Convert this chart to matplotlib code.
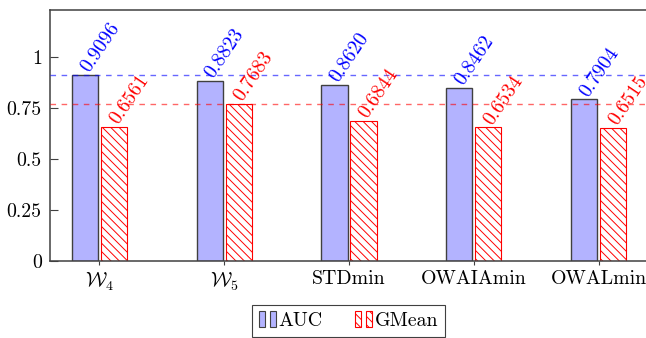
import matplotlib
matplotlib.use('Agg')
import matplotlib.pyplot as plt
from matplotlib.legend_handler import HandlerBase
from matplotlib.patches import Rectangle, Patch
import numpy as np

methods = [r'$\mathcal{W}_4$', r'$\mathcal{W}_5$', 'STDmin', 'OWAIAmin', 'OWALmin']
auc = [0.9096, 0.8823, 0.8620, 0.8462, 0.7904]
gmean = [0.6561, 0.7683, 0.6844, 0.6534, 0.6515]
yticks = [0, 0.25, 0.5, 0.75, 1]
ytick_labels = ['0', '0.25', '0.5', '0.75', '1']

plt.rcParams['font.family'] = 'serif'
plt.rcParams['font.serif'] = ['cmr10']
plt.rcParams['mathtext.fontset'] = 'cm'
plt.rcParams['axes.formatter.use_mathtext'] = True
plt.rcParams['hatch.linewidth'] = 0.7
plt.rcParams['hatch.color'] = 'red'

AUC_FILL = '#b3b3ff'
AXIS_COL = '#404040'
FS = 14.3


class TwoBarHandler(HandlerBase):
    # pgfplots style ybar legend: two little bars
    def create_artists(self, legend, orig_handle, xdescent, ydescent,
                       width, height, fontsize, trans):
        bw = width * 0.36
        h = height * 1.2
        y0 = -ydescent - height * 0.1
        out = []
        for x0 in (0, width - bw):
            r = Rectangle((x0 - xdescent, y0), bw, h,
                          facecolor=orig_handle.get_facecolor(),
                          edgecolor=orig_handle.get_edgecolor(),
                          hatch=orig_handle.get_hatch(), linewidth=0.8,
                          transform=trans)
            out.append(r)
        return out


fig = plt.figure(figsize=(6.46, 3.38), dpi=100)
ax = fig.add_axes([50 / 646, 1 - 260.7 / 338, 598 / 646, 250.7 / 338])

x = np.arange(len(methods))
w = 0.21
off = 0.116
ax.bar(x - off, auc, w, color=AUC_FILL, edgecolor=AXIS_COL, linewidth=1.0, zorder=2)
ax.bar(x + off, gmean, w, color='white', edgecolor='red', hatch='\\\\\\\\',
       linewidth=0.8, zorder=2)

ax.axhline(max(auc), color='blue', ls=(0, (4, 4)), lw=1.0, alpha=0.6, zorder=3)
ax.axhline(max(gmean), color='red', ls=(0, (4, 4)), lw=1.0, alpha=0.6, zorder=3)

for i in range(len(methods)):
    ax.annotate('%.4f' % auc[i], xy=(x[i] - off, auc[i]), xytext=(2.9, 1.3),
                textcoords='offset points', rotation=56, rotation_mode='anchor',
                ha='left', va='baseline', color='blue', fontsize=FS, zorder=4)
    ax.annotate('%.4f' % gmean[i], xy=(x[i] + off, gmean[i]), xytext=(2.9, 1.3),
                textcoords='offset points', rotation=56, rotation_mode='anchor',
                ha='left', va='baseline', color='red', fontsize=FS, zorder=4)

ax.set_xlim(-0.395, 4.395)
ax.set_ylim(0, 1.229)
ax.set_xticks(x)
ax.set_xticklabels(methods, fontsize=FS)
ax.set_yticks(yticks)
ax.set_yticklabels(ytick_labels, fontsize=FS)
ax.tick_params(axis='y', direction='in', length=6, width=0.8, color=AXIS_COL, pad=6)
ax.tick_params(axis='x', direction='out', length=3, width=0.8, color=AXIS_COL, pad=4)
for s in ax.spines.values():
    s.set_color(AXIS_COL)
    s.set_linewidth(1.1)

h1 = Patch(facecolor=AUC_FILL, edgecolor=AXIS_COL)
h2 = Patch(facecolor='white', edgecolor='red', hatch='\\\\\\\\')
leg = fig.legend([h1, h2], ['AUC', 'GMean'], ncol=2, loc='upper center',
                 bbox_to_anchor=(348.5 / 646, 1 - 305 / 338), fontsize=FS,
                 handler_map={Patch: TwoBarHandler()}, fancybox=False,
                 edgecolor=AXIS_COL, framealpha=1, handlelength=0.85,
                 handletextpad=0.15, columnspacing=1.6, borderpad=0.35,
                 borderaxespad=0)
leg.get_frame().set_linewidth(0.8)

fig.savefig('out.png', dpi=100)
